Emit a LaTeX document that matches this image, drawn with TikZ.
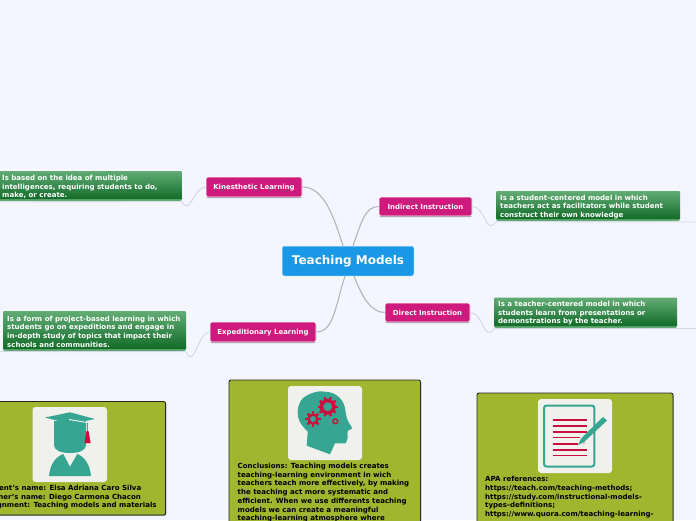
\documentclass[tikz,border=0pt]{standalone}
\usepackage{fontspec}
\setmainfont{DejaVu Sans}[BoldFont={DejaVu Sans Bold}]
\usetikzlibrary{shadows,calc}
\definecolor{bgc}{HTML}{F3F6FF}
\definecolor{pinkc}{HTML}{CF1A7D}
\definecolor{bluec}{HTML}{1A98E8}
\definecolor{olive}{HTML}{9FB62E}
\definecolor{teal2}{HTML}{36A692}
\definecolor{redc}{HTML}{C9103D}
\definecolor{iconbg}{HTML}{F0F1EC}
\definecolor{linec}{HTML}{B5B5B8}
\definecolor{linel}{HTML}{D4D7E2}
\definecolor{gtop}{HTML}{62AC74}
\definecolor{gmid}{HTML}{3A8C50}
\definecolor{gbot}{HTML}{116B26}
\definecolor{grim}{HTML}{5FA873}
\tikzset{
 x=1pt,y=-1pt,
 boxtxt/.style={font=\fontsize{7.03}{8.7}\selectfont\bfseries,align=left,inner sep=0pt},
 pinktxt/.style={text=white,font=\fontsize{6.95}{8}\selectfont\bfseries,inner sep=0pt,yshift=-.6pt},
 central/.style={rectangle,rounded corners=2pt,fill=bluec,draw=white,line width=.5pt},
 pinkbox/.style={rectangle,rounded corners=2pt,fill=pinkc,draw=white,line width=.7pt,drop shadow={shadow xshift=0pt,shadow yshift=-1pt,opacity=.45,fill=black}},
 card/.style={rectangle,rounded corners=2pt,fill=olive,draw=black!85,line width=.9pt,drop shadow={shadow xshift=.8pt,shadow yshift=-.8pt,opacity=.4,fill=black}},
 iconbox/.style={rectangle,rounded corners=3pt,fill=iconbg},
 mainline/.style={draw=linec,line width=1.1pt},
 subline/.style={draw=linel,line width=.9pt},
}
\newcommand{\boxat}[6]{%
 \node[rectangle,inner sep=0pt,minimum width=#4-#2,minimum height=#5-#3,#6] (#1) at ({(#2+#4)/2},{(#3+#5)/2}) {};}
\newcommand{\gboxat}[5]{%
 \fill[grim,rounded corners=2pt] (#2,{#5-6}) rectangle (#4,#5);
 \node[rectangle,rounded corners=1pt,inner sep=0pt,minimum width=#4-#2,minimum height=#5-#3-2,
   top color=gtop,bottom color=gbot,middle color=gmid,draw=none] (#1body) at ({(#2+#4)/2},{(#3+#5-2)/2}) {};
 \coordinate (#1) at ({(#2+#4)/2},{(#3+#5)/2});
 \coordinate (#1SE) at (#4,#5);
 \coordinate (#1SW) at (#2,#5);}
\begin{document}
\begin{tikzpicture}
\useasboundingbox (0,0) rectangle (696,520);
\clip (0,0) rectangle (696,520);
\fill[bgc] (0,0) rectangle (696,520);

% main nodes
\boxat{center}{282}{246}{414}{276}{central}
\node[text=white,font=\fontsize{12}{14}\selectfont\bfseries,inner sep=0pt,yshift=-.5pt] (centertxt) at (center.center) {Teaching Models};
\boxat{kin}{206}{177}{302}{197}{pinkbox}
\node[pinktxt] (kintxt) at (kin.center) {Kinesthetic Learning};
\boxat{exp}{210}{322}{316}{342}{pinkbox}
\node[pinktxt] (exptxt) at (exp.center) {Expeditionary Learning};
\boxat{ind}{379}{197}{472}{216}{pinkbox}
\node[pinktxt] (indtxt) at (ind.center) {Indirect Instruction};
\boxat{dir}{385}{303}{470}{322}{pinkbox}
\node[pinktxt] (dirtxt) at (dir.center) {Direct Instruction};

% main connectors
\draw[mainline] (kin.east) .. controls +(22,0) and +(-9,-28) .. ($(center.north)+(-5,0)$);
\draw[mainline] (exp.east) .. controls +(18,0) and +(-9,26) .. ($(center.south)+(-3,0)$);
\draw[mainline] (ind.west) .. controls +(-14,0) and +(8,-22) .. ($(center.north)+(5,0)$);
\draw[mainline] (dir.west) .. controls +(-14,0) and +(8,20) .. ($(center.south)+(6,0)$);

% green boxes
\gboxat{kg}{-2}{171}{182}{201}
\gboxat{eg}{3}{311}{186}{351}
\gboxat{ig}{496}{191}{680}{221}
\gboxat{dg}{494}{297.5}{677}{328}
\node[boxtxt,text=white,anchor=north west] (kt) at (2,175) {Is based on the idea of multiple\\intelligences, requiring students to do,\\make, or create.};
\node[boxtxt,text=white,anchor=north west] (et) at (7,315.5) {Is a form of project-based learning in which\\students go on expeditions and engage in\\in-depth study of topics that impact their\\schools and communities.};
\node[boxtxt,text=white,anchor=north west] (it) at (500,194.7) {Is a student-centered model in which\\teachers act as facilitators while student\\construct their own knowledge};
\node[boxtxt,text=white,anchor=north west] (dt) at (498,301) {Is a teacher-centered model in which\\students learn from presentations or\\demonstrations by the teacher.};

% sub connectors
\coordinate (kend) at (0,202);
\coordinate (eend) at (0,351.5);
\coordinate (iend) at (696,222);
\coordinate (dend) at (696,328.5);
\draw[subline] (kin.west) .. controls +(-12,0) and +(8,15) .. ($(kgSE)+(0,.7)$) -- (kend);
\draw[subline] (exp.west) .. controls +(-12,0) and +(8,19) .. ($(egSE)+(0,.7)$) -- (eend);
\draw[subline] (ind.east) .. controls +(13,0) and +(-10,15) .. ($(igSW)+(0,.7)$) -- (iend);
\draw[subline] (dir.east) .. controls +(13,0) and +(-10,15) .. ($(dgSW)+(0,.7)$) -- (dend);

% cards
\boxat{c1}{-10}{401.5}{165.5}{515}{card}
\boxat{c2}{229}{380}{420.5}{540}{card}
\boxat{c3}{477}{393}{673}{540}{card}
\boxat{i1}{32.5}{407}{107}{482}{iconbox}
\boxat{i2}{288}{386}{362}{460}{iconbox}
\boxat{i3}{538}{399}{612}{473}{iconbox}

% graduate icon
\fill[teal2] (54,421) -- (86,421) -- (86,445) .. controls (86,450) and (80,453) .. (70,453) .. controls (60,453) and (54,450) .. (54,445) -- cycle;
\fill[teal2] (45,417.5) -- (70,412.3) -- (95,419) -- (70,424) -- cycle;
\draw[iconbg,line width=1pt] (69,419.5) -- (87,422.5);
\draw[teal2,line width=1pt] (87.5,423) -- (87.5,431);
\fill[redc] (86.5,431) -- (88.5,431) -- (90.7,443) -- (84.5,443) -- cycle;
\fill[teal2] (49,476) .. controls (50,465) and (55,457) .. (63.3,454) -- (70,466.7) -- (77.3,454) .. controls (85,457) and (90,465) .. (91,476) -- cycle;

% head icon
\fill[teal2] (306.7,445.7) -- (307.7,431.7) .. controls (300,424) and (297,418) .. (297.7,411.7)
 .. controls (298,403) and (302,398) .. (306,396) .. controls (312,392) and (320,390.5) .. (325,391.7)
 .. controls (335,392) and (342,398) .. (344.5,406) .. controls (346,412) and (346,418) .. (348,421)
 -- (352.3,428.3) -- (347.7,431) -- (347.7,438) -- (345.7,443.3) -- (335,443.3) -- (330,454.3) -- cycle;
\foreach \cx/\cy/\r/\w/\n in {327.7/406.7/8/3.6/10, 313/419/5.6/2.4/8}{
 \draw[redc,line width=\w pt] (\cx,\cy) circle[radius=\r-\w/2];
 \foreach \a in {1,...,\n}{
  \draw[redc,line width=2.2pt] ({\cx+(\r-.8)*cos(360*\a/\n)},{\cy+(\r-.8)*sin(360*\a/\n)}) -- ({\cx+(\r+2)*cos(360*\a/\n)},{\cy+(\r+2)*sin(360*\a/\n)});
 }
}
\draw[redc,line width=1.4pt] (335.3,421.3) circle[radius=2.4];

% document icon
\draw[teal2,line width=2pt,rounded corners=2.5pt] (544,405.5) rectangle (594.3,466.5);
\foreach \yy/\xe/\w in {420/586.7/2.2,426/586.7/2.2,431.7/586.7/1.6,437.3/580/1.2,443.7/578/2.2,450/586.7/1.4,455.7/586.7/1.4}{
 \draw[redc,line width=\w pt] (552.7,\yy) -- (\xe,\yy);
}
\fill[redc] (584,443) circle[radius=.7];
\fill[teal2] (603,417) -- (607,420.5) -- (584,442) -- (578,445) -- (581,438.5) -- cycle;

% card text
\node[boxtxt,text=black,anchor=north east] (t1) at (156.8,485) {Student's name: Elsa Adriana Caro Silva\\Teacher's name: Diego Carmona Chacon\\Assignment: Teaching models and materials};
\node[boxtxt,text=black,anchor=north west] (t2) at (237.5,463) {Conclusions: Teaching models creates\\teaching-learning environment in wich\\teachers teach more effectively, by making\\the teaching act more systematic and\\efficient. When we use differents teaching\\models we can create a meaningful\\teaching-learning atmosphere where};
\node[boxtxt,text=black,anchor=north west] (t3) at (485,476.3) {APA references:\\https://teach.com/teaching-methods;\\https://study.com/instructional-models-\\types-definitions;\\https://www.quora.com/teaching-learning-};
\end{tikzpicture}
\end{document}
